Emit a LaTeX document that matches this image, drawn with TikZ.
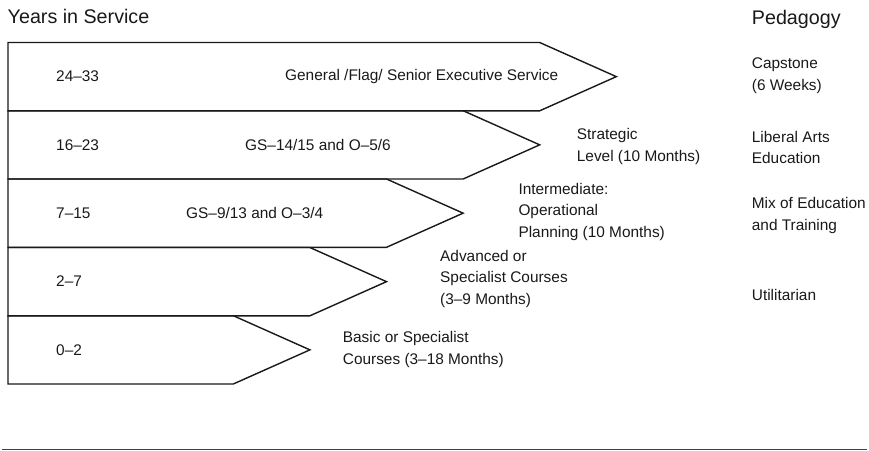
\documentclass[tikz,border=0pt]{standalone}
\usepackage{fontspec}
\setmainfont{Liberation Sans}

\begin{document}
\begin{tikzpicture}[x=1pt, y=-1pt,
    band/.style={draw=black!90, line width=1.4pt, line join=miter},
    lbl/.style={anchor=west, inner sep=0pt, align=left, text=black!90,
        font=\fontsize{15.4}{21.6}\selectfont},
    head/.style={anchor=base west, inner sep=0pt, text=black!90,
        font=\fontsize{19.7}{23}\selectfont}]
    \useasboundingbox (0,0) rectangle (869,450);

    % Bands: name / top edge / shoulder (tip sits 76.6 further right)
    \foreach \name/\ytop/\xs in {gen/42.5/539.7, str/110.7/463.1, int/179/386.5, adv/247.5/309.9, bas/315.7/233.3}
        \draw[band] (8,\ytop) -- (\xs,\ytop) -- ({\xs+76.6},{\ytop+34.15})
            -- (\xs,{\ytop+68.3}) -- (8,{\ytop+68.3}) -- cycle;

    % Headings
    \node[head] (yearsHead) at (7.5,23.3) {Years in Service};
    \node[head] (pedHead) at (751.7,24) {Pedagogy};

    % Years
    \node[lbl] (yrsGen) at (56,76.6) {24–33};
    \node[lbl] (yrsStr) at (56,144.9) {16–23};
    \node[lbl] (yrsInt) at (56,213.2) {7–15};
    \node[lbl] (yrsAdv) at (56,281.6) {2–7};
    \node[lbl] (yrsBas) at (56,349.9) {0–2};

    % Grades
    \node[lbl] (gradeGen) at (285,76.6) {General /Flag/ Senior Executive Service};
    \node[lbl] (gradeStr) at (245,144.9) {GS–14/15 and O–5/6};
    \node[lbl] (gradeInt) at (186,213.2) {GS–9/13 and O–3/4};

    % Courses
    \node[lbl] (courseStr) at (576.7,146.7) {Strategic\\Level (10 Months)};
    \node[lbl] (courseInt) at (518.3,212) {Intermediate:\\Operational\\Planning (10 Months)};
    \node[lbl] (courseAdv) at (440,278.7) {Advanced or\\Specialist Courses\\(3–9 Months)};
    \node[lbl] (courseBas) at (342.7,349.5) {Basic or Specialist\\Courses (3–18 Months)};

    % Pedagogy
    \node[lbl] (pedCap) at (751.7,76) {Capstone\\(6 Weeks)};
    \node[lbl] (pedLib) at (751.7,147.5) {Liberal Arts\\Education};
    \node[lbl] (pedMix) at (751.7,215.5) {Mix of Education\\and Training};
    \node[lbl] (pedUti) at (751.7,295) {Utilitarian};

    % Foot rule
    \draw[black!75, line width=1pt] (2,449) -- (867,449);
\end{tikzpicture}
\end{document}
